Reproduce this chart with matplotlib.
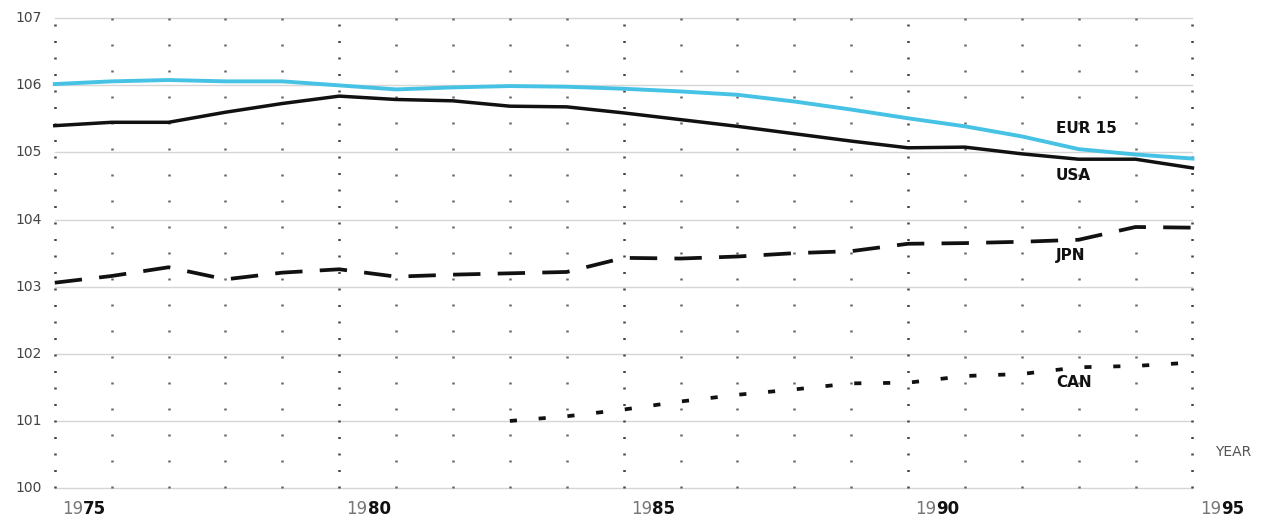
import matplotlib
matplotlib.use("Agg")
import matplotlib.pyplot as plt

years = list(range(1975, 1996))
eur15 = [106.02, 106.06, 106.08, 106.06, 106.06, 106.00, 105.94, 105.97, 105.99, 105.98,
         105.95, 105.91, 105.86, 105.76, 105.64, 105.51, 105.39, 105.24, 105.05, 104.97, 104.91]
usa = [105.40, 105.45, 105.45, 105.60, 105.73, 105.84, 105.79, 105.77, 105.69, 105.68,
       105.59, 105.49, 105.39, 105.28, 105.17, 105.07, 105.08, 104.98, 104.90, 104.90, 104.77]
jpn = [103.06, 103.16, 103.29, 103.11, 103.21, 103.26, 103.15, 103.18, 103.20, 103.22,
       103.43, 103.42, 103.45, 103.50, 103.53, 103.64, 103.65, 103.67, 103.70, 103.89, 103.88]
can_years = list(range(1983, 1996))
can = [101.00, 101.07, 101.17, 101.29, 101.39, 101.47, 101.56, 101.57, 101.67, 101.70,
       101.80, 101.82, 101.87]

y_ticks = [100, 101, 102, 103, 104, 105, 106, 107]
major_years = [1975, 1980, 1985, 1990, 1995]
series_labels = {"EUR 15": (1992.6, 105.36), "USA": (1992.6, 104.66),
                 "JPN": (1992.6, 103.47), "CAN": (1992.6, 101.58)}

fig = plt.figure(figsize=(12.74, 5.22), dpi=100)
ax = fig.add_axes([0.043, 0.065, 0.893, 0.9])
ax.set_xlim(1975, 1995)
ax.set_ylim(100, 107)
for s in ax.spines.values():
    s.set_visible(False)
ax.set_xticks([])
ax.set_yticks([])

# horizontal gridlines and y labels
for yv in y_ticks:
    ax.plot([1975, 1995], [yv, yv], color="#d6d6d6", lw=1.0, zorder=1, clip_on=False)
    ax.text(1975 - 0.22, yv, str(yv), ha="right", va="center",
            fontsize=10, color="#444444")

# vertical dotted lines
for yr in years:
    if yr in major_years:
        ax.plot([yr, yr], [100, 107], color="#444444", lw=1.8,
                linestyle=(0, (0.8, 5.8)), zorder=2, clip_on=False)
    else:
        ax.plot([yr, yr], [100, 107], color="#666666", lw=1.8,
                linestyle=(0, (0.8, 9.6)), zorder=2, clip_on=False)

# series
ax.plot(years, eur15, color="#46C2E4", lw=2.8, zorder=4, clip_on=False)
ax.plot(years, usa, color="#111111", lw=2.5, zorder=5, clip_on=False)
ax.plot(years, jpn, color="#111111", lw=2.7, linestyle=(0, (7.3, 4.6)), zorder=5, clip_on=False)
ax.plot(can_years, can, color="#111111", lw=2.7, linestyle=(0, (1.9, 5.8)), zorder=5, clip_on=False)

for name, (lx, ly) in series_labels.items():
    ax.text(lx, ly, name, fontsize=11, fontweight="bold", color="#111111",
            ha="left", va="center", zorder=6)

ax.text(1995.4, 100.54, "YEAR", fontsize=10, color="#555555", ha="left", va="center")

# x labels: "19" light + last two digits bold
xt = ax.get_xaxis_transform()
for yr in major_years:
    s = str(yr)
    t1 = ax.text(yr + 0.13, -0.025, s[:2], transform=xt, ha="left", va="top",
                 fontsize=12, color="#777777")
    ax.annotate(s[2:], xy=(1, 0), xycoords=t1, ha="left", va="bottom",
                fontsize=12, fontweight="bold", color="#111111")

fig.savefig("out.png", dpi=100, facecolor="white")
